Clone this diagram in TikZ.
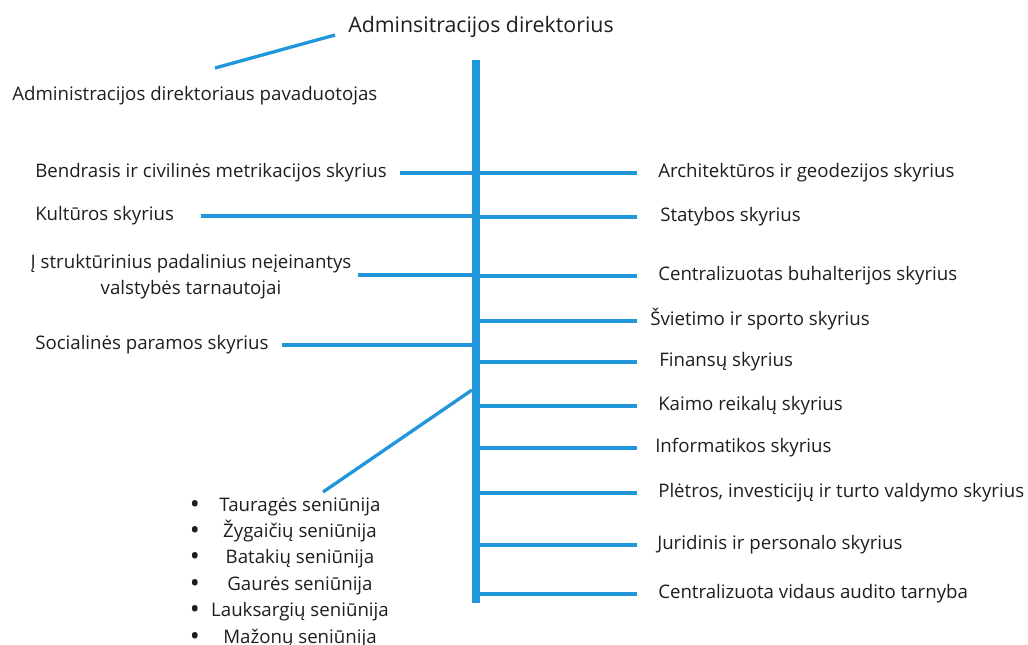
\documentclass[tikz,border=0pt]{standalone}
\usepackage{fontspec}
\setmainfont{Open Sans}
\usetikzlibrary{positioning}
\definecolor{linkblue}{RGB}{33,150,218}
\definecolor{txtgray}{RGB}{30,30,30}

\begin{document}
\begin{tikzpicture}[x=0.75pt, y=-0.75pt,
  unit/.style={font=\fontsize{14}{19.5}\selectfont, text=txtgray, inner sep=0pt},
  oneline/.style={unit, text height=9pt, text depth=3pt},
  branch/.style={linkblue, line width=2.5pt},
  trunk/.style={linkblue, line width=6pt}]
\useasboundingbox (0,0) rectangle (1028,644);

% Director and deputy
\node[oneline, font=\fontsize{16}{18}\selectfont, anchor=west] (dir) at (348,28) {Adminsitracijos direktorius};
\node[oneline, anchor=west] (dep) at (12,96) {Administracijos direktoriaus pavaduotojas};
\coordinate (dirend) at (335,35);
\coordinate (depend) at (215,68);
\draw[branch] (depend) -- (dirend);

% Main trunk
\coordinate (ttop) at (476,60);
\coordinate (tbot) at (476,603);
\coordinate (rend) at (637,0);
\draw[trunk] (ttop) -- (tbot);

% Left side units
\node[oneline, anchor=west] (l1) at (35,173) {Bendrasis ir civilinės metrikacijos skyrius};
\node[oneline, anchor=west] (l2) at (35,216) {Kultūros skyrius};
\node[unit, align=center] (l3) at (191,277) {Į struktūrinius padalinius neįeinantys\\valstybės tarnautojai};
\node[oneline, anchor=west] (l4) at (35,345) {Socialinės paramos skyrius};
\draw[branch] ([xshift=10pt]l1.east) -- (l1.east -| ttop);
\draw[branch] ([xshift=20pt]l2.east) -- (l2.east -| ttop);
\draw[branch] ([xshift=5pt,yshift=1.5pt]l3.east) -- ([yshift=1.5pt]l3.east -| ttop);
\draw[branch] ([xshift=10pt]l4.east) -- (l4.east -| ttop);

% Right side units
\node[oneline, anchor=west] (r1) at (658,173) {Architektūros ir geodezijos skyrius};
\node[oneline, anchor=west] (r2) at (660,217) {Statybos skyrius};
\node[oneline, anchor=west] (r3) at (658,276) {Centralizuotas buhalterijos skyrius};
\node[oneline, anchor=west] (r4) at (650,321) {Švietimo ir sporto skyrius};
\node[oneline, anchor=west] (r5) at (659,362) {Finansų skyrius};
\node[oneline, anchor=west] (r6) at (658,406) {Kaimo reikalų skyrius};
\node[oneline, anchor=west] (r7) at (655,448) {Informatikos skyrius};
\node[oneline, anchor=west] (r8) at (658,493) {Plėtros, investicijų ir turto valdymo skyrius};
\node[oneline, anchor=west] (r9) at (657,545) {Juridinis ir personalo skyrius};
\node[oneline, anchor=west] (r10) at (658,594) {Centralizuota vidaus audito tarnyba};
\foreach \r in {r1,r2,r3,r4,r5,r6,r7,r8,r9,r10}
  \draw[branch] (\r.west -| ttop) -- (\r.west -| rend);

% Elderships
\node[oneline] (s1) at (300,507) {Tauragės seniūnija};
\node[oneline] (s2) at (300,533) {Žygaičių seniūnija};
\node[oneline] (s3) at (300,559) {Batakių seniūnija};
\node[oneline] (s4) at (300,586) {Gaurės seniūnija};
\node[oneline] (s5) at (300,612) {Lauksargių seniūnija};
\node[oneline] (s6) at (300,639) {Mažonų seniūnija};
\foreach \s in {s1,s2,s3,s4,s5,s6}
  \node[unit, font=\fontsize{20}{20}\selectfont] at (\s -| 195,0) {\textbullet};
\coordinate (sentop) at (323,492);
\coordinate (tjoin) at (472,390);
\draw[branch] (tjoin) -- (sentop);
\end{tikzpicture}
\end{document}
